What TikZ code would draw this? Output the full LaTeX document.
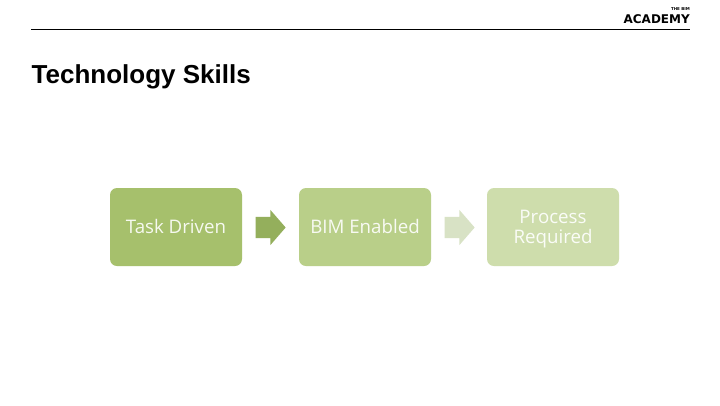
\documentclass[tikz,border=0pt]{standalone}
\usepackage{fontspec}
\setmainfont{Open Sans}
\newfontfamily\titlefont{Liberation Sans}
\newfontfamily\logofont{DejaVu Sans}
\usetikzlibrary{shapes.arrows}
\definecolor{boxa}{HTML}{A6C06C}
\definecolor{boxb}{HTML}{B9CF89}
\definecolor{boxc}{HTML}{CEDDAC}
\definecolor{arra}{HTML}{94AF5C}
\definecolor{arrb}{HTML}{D8E2C5}
\tikzset{
  stagebox/.style={draw=none,rounded corners=7pt,minimum width=132pt,minimum height=78pt,inner sep=0pt,
    align=center,font=\fontsize{18.7}{20}\selectfont},
  stagearrow/.style={single arrow,draw=none,minimum width=35pt,minimum height=30pt,inner xsep=0pt,inner ysep=10.5pt,
    text height=0pt,text depth=0pt,text width=0pt,
    single arrow head extend=7pt,single arrow tip angle=98,single arrow head indent=0pt},
}
\begin{document}
\begin{tikzpicture}[x=1pt,y=-1pt]
\useasboundingbox (0,0) rectangle (720,405);
\fill[white] (0,0) rectangle (720,405);
\coordinate (ruleL) at (31,29.5);
\coordinate (ruleR) at (690,29.5);
\draw[black,line width=0.8pt] (ruleL) -- (ruleR);
\node[anchor=base west,inner sep=0pt,font=\titlefont\bfseries\fontsize{26}{28}\selectfont] (title) at (31.5,83) {Technology Skills};
\node[anchor=base east,inner sep=0pt,font=\logofont\bfseries\fontsize{12}{13}\selectfont] (logo) at (690,23) {ACADEMY};
\node[anchor=base east,inner sep=0pt,font=\logofont\bfseries\fontsize{4}{4}\selectfont] (logotop) at (690,10.5) {THE BIM};
\node[stagebox,fill=boxa,text=white!90!boxa] (task) at (176,227) {\raisebox{1pt}{Task Driven}};
\node[stagebox,fill=boxb,text=white!90!boxb] (bim) at (365,227) {\raisebox{1pt}{BIM Enabled}};
\node[stagebox,fill=boxc,text=white!90!boxc] (proc) at (553,227) {\smash{\raisebox{-6pt}{Process}}\\\smash{\raisebox{-6pt}{Required}}};
\node[stagearrow,fill=arra] (a1) at (266,227.5) {};
\node[stagearrow,fill=arrb] (a2) at (455,227.5) {};
\end{tikzpicture}
\end{document}
